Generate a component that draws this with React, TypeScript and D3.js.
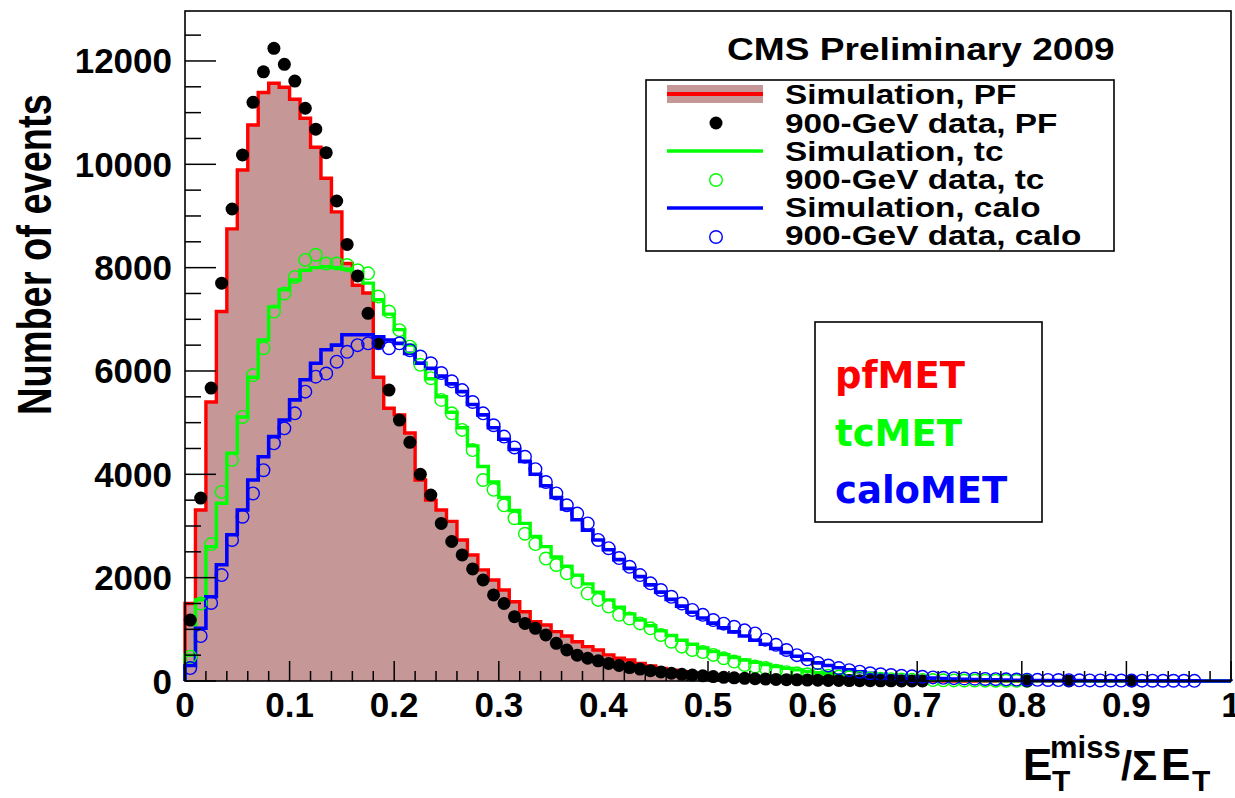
import React from 'react';
import * as d3 from 'd3';

// Bin contents, 100 bins of width 0.01 on [0, 1]
const pfSim = [
  1500, 3310, 5400, 7150, 8750, 9890, 10760, 11390, 11570, 11490,
  11260, 10890, 10330, 9730, 9080, 8080, 7660, 7510, 5880, 5280,
  5150, 4800, 3890, 3500, 3310, 3090, 2730, 2440, 2150, 1955,
  1760, 1535, 1340, 1150, 1085, 955, 870, 760, 665, 600,
  505, 440, 405, 340, 290, 245, 210, 180, 150, 130,
  110, 90, 75, 60, 50, 40, 32, 25, 20, 15,
  12, 9, 7, 5, 4, 3, 2, 2, 1, 1,
  0, 0, 0, 0, 0, 0, 0, 0, 0, 0,
  0, 0, 0, 0, 0, 0, 0, 0, 0, 0,
  0, 0, 0, 0, 0, 0, 0, 0, 0, 0,
];

const pfData: (number | null)[] = [
  1180, 3540, 5670, 7700, 9135, 10180, 11200, 11790, 12245, 11935,
  11610, 11085, 10680, 10225, 9290, 8450, 7840, 7115, 6535, 5630,
  5050, 4620, 4000, 3600, 3050, 2700, 2440, 2170, 1955, 1665,
  1500, 1245, 1115, 1020, 890, 730, 600, 500, 440, 390,
  340, 300, 260, 230, 200, 175, 150, 130, 115, 100,
  85, 72, 62, 52, 44, 37, 31, 26, 22, 18,
  15, 12, 10, 8, 6, 5, 4, 3, 2, 2,
  1, null, null, null, null, null, null, null, null, null,
  1, null, null, null, 1, null, null, null, null, null,
  1, null, null, null, null, null, null, null, null, null,
];

const tcSim = [
  500, 1570, 2600, 3440, 4410, 5110, 5880, 6600, 7240, 7570,
  7760, 7950, 8000, 8020, 8000, 7970, 7900, 7700, 7380, 7100,
  6800, 6500, 6150, 5850, 5500, 5200, 4900, 4550, 4150, 3850,
  3550, 3300, 3050, 2800, 2600, 2400, 2220, 2050, 1880, 1720,
  1570, 1430, 1300, 1180, 1070, 970, 880, 790, 710, 640,
  570, 510, 455, 405, 360, 320, 280, 245, 215, 185,
  160, 140, 120, 102, 87, 74, 63, 53, 45, 38,
  32, 27, 22, 18, 15, 12, 10, 8, 6, 5,
  4, 3, 3, 2, 2, 1, 1, 1, 0, 0,
  0, 0, 0, 0, 0, 0, 0, 0, 0, 0,
];

const tcData: (number | null)[] = [
  470, 1500, 2650, 3660, 4280, 5110, 5920, 6440, 7150, 7500,
  7820, 8150, 8250, 8080, 8080, 8050, 7950, 7890, 7440, 7150,
  6790, 6470, 6120, 5860, 5440, 5180, 4860, 4470, 3890, 3700,
  3400, 3150, 2850, 2650, 2370, 2245, 2085, 1920, 1695, 1570,
  1440, 1280, 1210, 1115, 1020, 890, 760, 665, 600, 560,
  505, 440, 375, 310, 280, 250, 200, 170, 150, 130,
  115, 100, 85, 72, 60, 50, 42, 35, 29, 24,
  20, 17, 14, 12, 10, 8, 7, 6, 5, 4,
  3, null, null, null, null, null, null, null, null, null,
  null, null, null, null, null, null, null, null, null, null,
];

const caloSim = [
  300, 1020, 1630, 2250, 2830, 3310, 3890, 4340, 4730, 5050,
  5440, 5830, 6150, 6410, 6500, 6700, 6700, 6700, 6660, 6600,
  6535, 6340, 6150, 6050, 5900, 5750, 5600, 5350, 5150, 4900,
  4680, 4480, 4250, 4000, 3780, 3550, 3330, 3120, 2920, 2730,
  2540, 2350, 2180, 2020, 1860, 1720, 1580, 1450, 1330, 1220,
  1120, 1030, 950, 870, 790, 710, 630, 550, 480, 410,
  350, 300, 255, 215, 180, 150, 125, 105, 90, 75,
  65, 55, 47, 40, 34, 29, 25, 21, 18, 15,
  13, 11, 10, 9, 8, 7, 6, 5, 5, 4,
  4, 3, 3, 3, 2, 2, 2, 1, 1, 1,
];

const caloData: (number | null)[] = [
  250, 870, 1510, 2050, 2730, 3180, 3630, 4080, 4600, 4890,
  5180, 5600, 5890, 5950, 6180, 6370, 6500, 6535, 6535, 6440,
  6535, 6400, 6280, 6150, 5960, 5800, 5630, 5400, 5180, 4950,
  4730, 4520, 4340, 4100, 3850, 3630, 3400, 3240, 3050, 2730,
  2570, 2380, 2210, 2050, 1890, 1760, 1630, 1500, 1375, 1280,
  1180, 1110, 1050, 980, 920, 800, 700, 600, 500, 420,
  350, 300, 250, 210, 180, 150, 130, 115, 100, 90,
  80, 70, 62, 55, 50, 45, 40, 36, 32, 28,
  25, 22, 20, 18, 16, 14, 12, 11, 10, 9,
  8, 7, 6, 5, 5, 4, 3, null, null, null,
];

const yTicks = [0, 2000, 4000, 6000, 8000, 10000, 12000];
const xTicks = [0, 0.1, 0.2, 0.3, 0.4, 0.5, 0.6, 0.7, 0.8, 0.9, 1];
const xTickLabels = ['0', '0.1', '0.2', '0.3', '0.4', '0.5', '0.6', '0.7', '0.8', '0.9', '1'];

const legendLabels = [
  'Simulation, PF',
  '900-GeV data, PF',
  'Simulation, tc',
  '900-GeV data, tc',
  'Simulation, calo',
  '900-GeV data, calo',
];
const tagLabels = ['pfMET', 'tcMET', 'caloMET'];

const RED = '#ff0000';
const GREEN = '#00ff00';
const BLUE = '#0000ff';
const FILL = '#c69797';
const FONT = '"Liberation Sans", Arial, Helvetica, sans-serif';

const W = 1235;
const H = 798;
const BINS = 100;
const X0 = 0;
const X1 = 1;
const Y_MAX = 12967;

export default function App() {
  const x = d3.scaleLinear().domain([X0, X1]).range([185, 1231]);
  const y = d3.scaleLinear().domain([0, Y_MAX]).range([681, 11]);
  const bw = (X1 - X0) / BINS;

  const stepPoints = (vals: number[]) => {
    const pts: [number, number][] = [[X0, 0]];
    vals.forEach((v, i) => pts.push([X0 + i * bw, v]));
    pts.push([X1, vals[vals.length - 1]]);
    pts.push([X1, 0]);
    return pts;
  };

  const stepLine = d3
    .line<[number, number]>()
    .x((d) => x(d[0]))
    .y((d) => y(d[1]))
    .curve(d3.curveStepAfter);

  const stepArea = d3
    .area<[number, number]>()
    .x((d) => x(d[0]))
    .y0(y(0))
    .y1((d) => y(d[1]))
    .curve(d3.curveStepAfter);

  const points = (vals: (number | null)[]) =>
    vals
      .map((v, i) => ({ v, c: X0 + (i + 0.5) * bw }))
      .filter((d) => d.v !== null) as { v: number; c: number }[];

  const yMinor = d3.range(0, 12501, 500);
  const xMinor = d3.range(0, 51).map((i) => i * 0.02);

  const [px0, px1] = x.range();
  const [py0, py1] = y.range();

  const legRowY = [104, 133, 161, 189, 217, 245];

  return (
    <svg
      width={W}
      height={H}
      style={{ position: 'absolute', left: 0, top: 0, background: '#fff' }}
      fontFamily={FONT}
    >
      <rect x={0} y={0} width={W} height={H} fill="#fff" />

      {/* PF simulation: filled histogram */}
      <path d={stepArea(stepPoints(pfSim)) || ''} fill={FILL} stroke="none" />
      <path d={stepLine(stepPoints(pfSim)) || ''} fill="none" stroke={RED} strokeWidth={3.4} />

      {/* tc and calo simulation */}
      <path d={stepLine(stepPoints(tcSim)) || ''} fill="none" stroke={GREEN} strokeWidth={3.4} />
      <path d={stepLine(stepPoints(caloSim)) || ''} fill="none" stroke={BLUE} strokeWidth={3.6} />

      {/* data points */}
      {points(tcData).map((d, i) => (
        <circle key={'tc' + i} cx={x(d.c)} cy={y(d.v)} r={6.3} fill="none" stroke={GREEN} strokeWidth={1.4} />
      ))}
      {points(pfData).map((d, i) => (
        <circle key={'pf' + i} cx={x(d.c)} cy={y(d.v)} r={6.5} fill="#000" />
      ))}
      {points(caloData).map((d, i) => (
        <circle key={'ca' + i} cx={x(d.c)} cy={y(d.v)} r={6.3} fill="none" stroke={BLUE} strokeWidth={1.4} />
      ))}

      {/* frame */}
      <rect x={px0} y={py1} width={px1 - px0} height={py0 - py1} fill="none" stroke="#000" strokeWidth={1.6} />

      {/* y ticks */}
      {yMinor.map((t) => (
        <line
          key={'ym' + t}
          x1={px0}
          x2={px0 + (t % 2000 === 0 ? 31 : 16)}
          y1={y(t)}
          y2={y(t)}
          stroke="#000"
          strokeWidth={1.5}
        />
      ))}
      {yTicks.map((t) => (
        <text key={'yl' + t} x={172} y={y(t) + 12.5} textAnchor="end" fontSize={35} fontWeight="bold">
          {t}
        </text>
      ))}

      {/* x ticks */}
      {xMinor.map((t, i) => (
        <line
          key={'xm' + i}
          x1={x(t)}
          x2={x(t)}
          y1={py0}
          y2={py0 - (i % 5 === 0 ? 20 : 10)}
          stroke="#000"
          strokeWidth={1.5}
        />
      ))}
      {xTicks.map((t, i) => (
        <text key={'xl' + i} x={x(t)} y={717} textAnchor="middle" fontSize={35} fontWeight="bold">
          {xTickLabels[i]}
        </text>
      ))}

      {/* axis titles */}
      <g transform="translate(51,415) scale(1.28,1) rotate(-90)">
        <text x={0} y={0} fontSize={38} fontWeight="bold">
          Number of events
        </text>
      </g>
      <g fontWeight="bold">
        <text x={1023} y={780} fontSize={44}>E</text>
        <text x={1050} y={758} fontSize={31}>miss</text>
        <text x={1052} y={791} fontSize={30}>T</text>
        <text x={1121} y={780} fontSize={40}>/</text>
        <text x={1132} y={780} fontSize={42}>Σ</text>
        <text x={1161} y={780} fontSize={44}>E</text>
        <text x={1192} y={791} fontSize={30}>T</text>
      </g>

      {/* title */}
      <g transform="translate(727,0) scale(1.16,1)">
        <text x={0} y={60} fontSize={32} fontWeight="bold">
          CMS Preliminary 2009
        </text>
      </g>

      {/* legend */}
      <rect x={646} y={80} width={468} height={171} fill="#fff" stroke="#000" strokeWidth={1.6} />
      <rect x={667} y={85} width={96} height={18} fill={FILL} />
      <line x1={667} x2={763} y1={94} y2={94} stroke={RED} strokeWidth={4} />
      <circle cx={716} cy={123} r={6.5} fill="#000" />
      <line x1={667} x2={763} y1={151} y2={151} stroke={GREEN} strokeWidth={3.4} />
      <circle cx={716} cy={180} r={6.3} fill="none" stroke={GREEN} strokeWidth={1.4} />
      <line x1={667} x2={763} y1={208} y2={208} stroke={BLUE} strokeWidth={3.4} />
      <circle cx={716} cy={237} r={6.3} fill="none" stroke={BLUE} strokeWidth={1.4} />
      <g transform="translate(785,0) scale(1.17,1)">
        {legendLabels.map((s, i) => (
          <text key={s} x={0} y={legRowY[i]} fontSize={28.5} fontWeight="bold">
            {s}
          </text>
        ))}
      </g>

      {/* MET type tags */}
      <rect x={815} y={322} width={227} height={200} fill="#fff" stroke="#000" strokeWidth={1.6} />
      {tagLabels.map((s, i) => (
        <text
          key={s}
          x={835}
          y={[388, 446, 503][i]}
          fontSize={37}
          fontWeight="bold"
          fontFamily='"DejaVu Sans", sans-serif'
          fill={[RED, GREEN, BLUE][i]}
        >
          {s}
        </text>
      ))}
    </svg>
  );
}
